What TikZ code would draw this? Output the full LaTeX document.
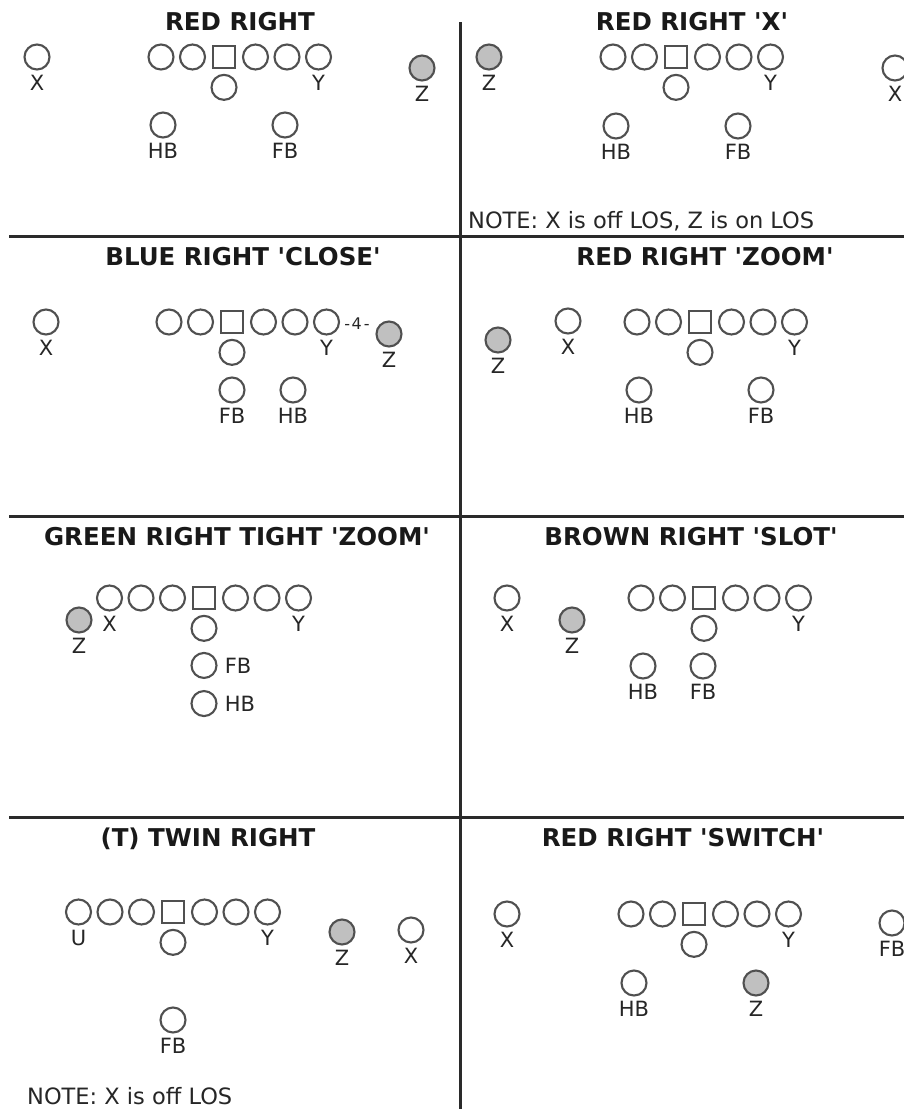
\documentclass[tikz,border=0pt]{standalone}
\usepackage{fontspec}
\setmainfont{DejaVu Sans}[Ligatures=TeXOff]
\usetikzlibrary{positioning}
\definecolor{PlayerGrey}{HTML}{505050}
\definecolor{ZFill}{HTML}{C0C0C0}
\definecolor{LineGrey}{HTML}{2A2A2A}

\begin{document}
\begin{tikzpicture}[
  x=1pt, y=-1pt,
  man/.style={circle, draw=PlayerGrey, line width=2.1pt, fill=white, minimum size=25pt, inner sep=0pt},
  ctr/.style={rectangle, draw=PlayerGrey, line width=2.1pt, fill=white, minimum size=21.5pt, inner sep=0pt},
  zman/.style={man, fill=ZFill},
  tag/.style={font=\fontsize{21}{21}\selectfont, text=black!85, inner sep=0pt},
  title/.style={font=\bfseries\fontsize{24.5}{24.5}\selectfont, text=black!90, inner sep=0pt, anchor=base},
  note/.style={font=\fontsize{22.5}{22.5}\selectfont, text=black!85, inner sep=0pt, anchor=base west},
  divider/.style={line width=3pt, draw=LineGrey},
  every label/.style={tag}, label distance=4pt
]
\useasboundingbox[fill=white] (0,0) rectangle (904,1109);
\clip (0,0) rectangle (904,1109);

% grid
\draw[divider] (460,22) -- (460,1109);
\draw[divider] (9,236) -- (904,236);
\draw[divider] (9,516) -- (904,516);
\draw[divider] (9,817) -- (904,817);

% RED RIGHT
\node[title] (t1) at (240,30) {RED RIGHT};
\node[ctr] (aC) at (224,57) {};
\foreach \i in {-2,-1,1,2} \node[man] (a\i) at (224+\i*31.5,57) {};
\node[man, label=below:Y] (aY) at (224+3*31.5,57) {};
\node[man, below=5pt of aC] (aQ) {};
\node[man, label=below:X] (aX) at (37,57) {};
\node[zman, label=below:Z] (aZ) at (422,68) {};
\node[man, label=below:HB] (aHB) at (163,125) {};
\node[man, label=below:FB] (aFB) at (285,125) {};

% RED RIGHT 'X'
\node[title] (t2) at (692,30) {RED RIGHT 'X'};
\node[ctr] (bC) at (676,57) {};
\foreach \i in {-2,-1,1,2} \node[man] (b\i) at (676+\i*31.5,57) {};
\node[man, label=below:Y] (bY) at (676+3*31.5,57) {};
\node[man, below=5pt of bC] (bQ) {};
\node[zman, label=below:Z] (bZ) at (489,57) {};
\node[man, label=below:X] (bX) at (895,68) {};
\node[man, label=below:HB] (bHB) at (616,126) {};
\node[man, label=below:FB] (bFB) at (738,126) {};
\node[note] (n2) at (468,228) {NOTE: X is off LOS, Z is on LOS};

% BLUE RIGHT 'CLOSE'
\node[title] (t3) at (243,265) {BLUE RIGHT 'CLOSE'};
\node[ctr] (cC) at (232,322) {};
\foreach \i in {-2,-1,1,2} \node[man] (c\i) at (232+\i*31.5,322) {};
\node[man, label=below:Y] (cY) at (232+3*31.5,322) {};
\node[man, below=5pt of cC] (cQ) {};
\node[man, label=below:X] (cX) at (46,322) {};
\node[tag, font=\fontsize{16}{16}\selectfont] (cGap) at (357,323.5) {-\kern1.5pt4\kern2pt-};
\node[zman, label=below:Z] (cZ) at (389,334) {};
\node[man, label=below:FB] (cFB) at (232,390) {};
\node[man, label=below:HB] (cHB) at (293,390) {};

% RED RIGHT 'ZOOM'
\node[title] (t4) at (705,265) {RED RIGHT 'ZOOM'};
\node[ctr] (dC) at (700,322) {};
\foreach \i in {-2,-1,1,2} \node[man] (d\i) at (700+\i*31.5,322) {};
\node[man, label=below:Y] (dY) at (700+3*31.5,322) {};
\node[man, below=5pt of dC] (dQ) {};
\node[zman, label=below:Z] (dZ) at (498,340) {};
\node[man, label=below:X] (dX) at (568,321) {};
\node[man, label=below:HB] (dHB) at (639,390) {};
\node[man, label=below:FB] (dFB) at (761,390) {};

% GREEN RIGHT TIGHT 'ZOOM'
\node[title] (t5) at (237,545) {GREEN RIGHT TIGHT 'ZOOM'};
\node[ctr] (eC) at (204,598) {};
\foreach \i in {-2,-1,1,2} \node[man] (e\i) at (204+\i*31.5,598) {};
\node[man, label=below:X] (eX) at (204-3*31.5,598) {};
\node[man, label=below:Y] (eY) at (204+3*31.5,598) {};
\node[man, below=5pt of eC] (eQ) {};
\node[zman, label=below:Z] (eZ) at (79,620) {};
\node[man, below=10pt of eQ, label={[label distance=7pt]right:FB}] (eFB) {};
\node[man, below=11pt of eFB, label={[label distance=7pt]right:HB}] (eHB) {};

% BROWN RIGHT 'SLOT'
\node[title] (t6) at (691,545) {BROWN RIGHT 'SLOT'};
\node[ctr] (fC) at (704,598) {};
\foreach \i in {-2,-1,1,2} \node[man] (f\i) at (704+\i*31.5,598) {};
\node[man, label=below:Y] (fY) at (704+3*31.5,598) {};
\node[man, below=5pt of fC] (fQ) {};
\node[man, label=below:X] (fX) at (507,598) {};
\node[zman, label=below:Z] (fZ) at (572,620) {};
\node[man, label=below:HB] (fHB) at (643,666) {};
\node[man, label=below:FB] (fFB) at (703,666) {};

% (T) TWIN RIGHT
\node[title] (t7) at (208,846) {(T) TWIN RIGHT};
\node[ctr] (gC) at (173,912) {};
\foreach \i in {-2,-1,1,2} \node[man] (g\i) at (173+\i*31.5,912) {};
\node[man, label=below:U] (gU) at (173-3*31.5,912) {};
\node[man, label=below:Y] (gY) at (173+3*31.5,912) {};
\node[man, below=5pt of gC] (gQ) {};
\node[zman, label=below:Z] (gZ) at (342,932) {};
\node[man, label=below:X] (gX) at (411,930) {};
\node[man, label=below:FB] (gFB) at (173,1020) {};
\node[note] (n7) at (27,1104) {NOTE: X is off LOS};

% RED RIGHT 'SWITCH'
\node[title] (t8) at (683,846) {RED RIGHT 'SWITCH'};
\node[ctr] (hC) at (694,914) {};
\foreach \i in {-2,-1,1,2} \node[man] (h\i) at (694+\i*31.5,914) {};
\node[man, label=below:Y] (hY) at (694+3*31.5,914) {};
\node[man, below=5pt of hC] (hQ) {};
\node[man, label=below:X] (hX) at (507,914) {};
\node[man, label=below:FB] (hFB) at (892,923) {};
\node[man, label=below:HB] (hHB) at (634,983) {};
\node[zman, label=below:Z] (hZ) at (756,983) {};
\end{tikzpicture}
\end{document}
